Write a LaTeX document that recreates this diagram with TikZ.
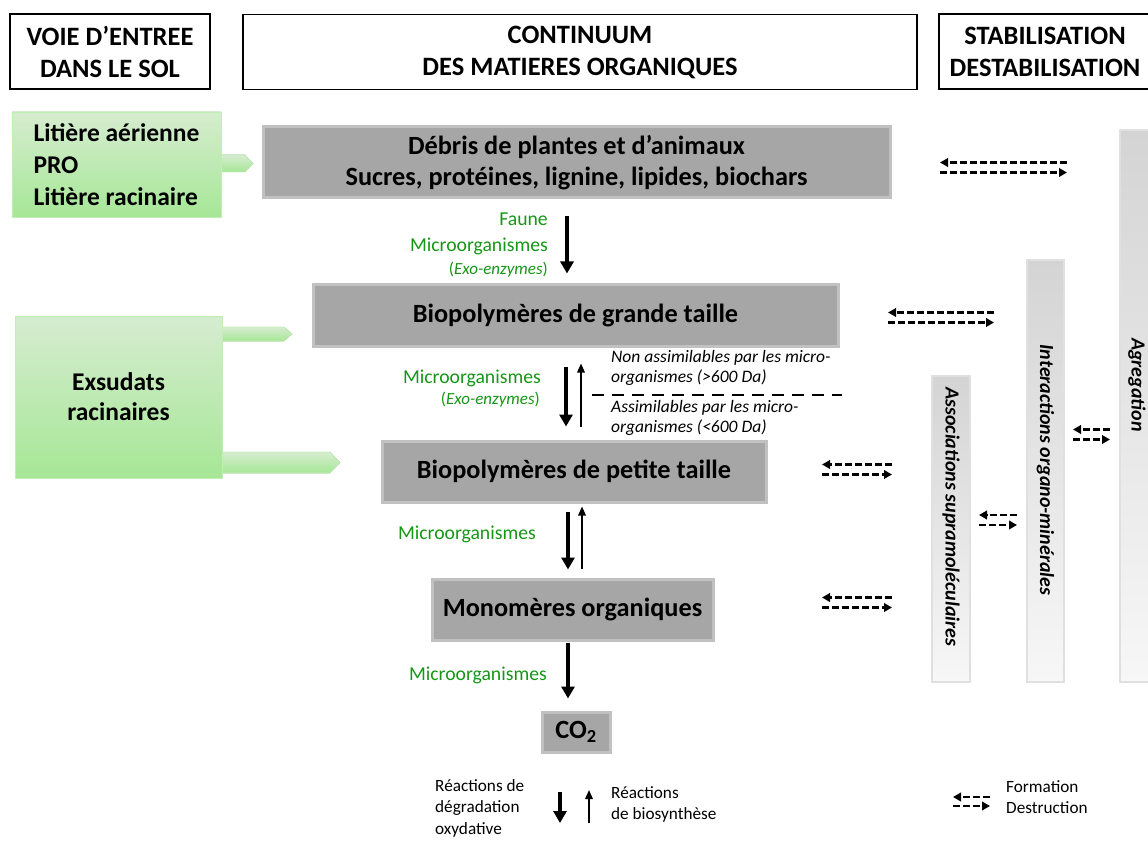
\documentclass[tikz,border=0pt]{standalone}
\usepackage{fontspec}
\setmainfont{Carlito}
\usetikzlibrary{arrows.meta}
\definecolor{boxgray}{RGB}{166,166,166}
\definecolor{txtgreen}{RGB}{22,150,22}
\definecolor{grtop}{RGB}{214,236,208}
\definecolor{grbot}{RGB}{166,231,150}
\definecolor{bartop}{RGB}{212,212,212}
\definecolor{barbot}{RGB}{247,247,247}
\newcommand\dblarr[2]{%
  \draw[dasharr] ([yshift=5pt]#2) -- ([yshift=5pt]#1);
  \draw[dasharr] ([yshift=-5pt]#1) -- ([yshift=-5pt]#2);}
\begin{document}
\begin{tikzpicture}[x=1pt,y=-1pt,
  hdr/.style={draw, line width=1.8pt, inner sep=0pt, align=center,
    font=\fontsize{26.5}{32}\selectfont\bfseries},
  gbox/.style={fill=boxgray, draw=boxgray!70, line width=3pt, inner sep=0pt, align=center,
    font=\fontsize{26.3}{31}\selectfont\bfseries},
  greenbox/.style={top color=grtop, bottom color=grbot, draw=grbot!70, line width=0.8pt,
    inner sep=0pt, font=\fontsize{25.5}{32}\selectfont\bfseries},
  tab/.style={top color=grtop, bottom color=grbot, draw=grbot!70, line width=0.6pt},
  bar/.style={top color=bartop, bottom color=barbot, draw=black!12, line width=1.5pt, inner sep=0pt},
  bartext/.style={rotate=-90, inner sep=0pt, font=\fontsize{20}{24}\selectfont\bfseries\itshape},
  glabel/.style={anchor=east, inner sep=0pt, text=txtgreen, font=\fontsize{19.7}{24}\selectfont},
  gsmall/.style={anchor=east, inner sep=0pt, text=txtgreen, font=\fontsize{17}{20}\selectfont},
  note/.style={anchor=west, inner sep=0pt, align=left, font=\fontsize{17.5}{20}\selectfont\itshape},
  legend/.style={anchor=north west, inner sep=0pt, align=left, font=\fontsize{17.2}{21.5}\selectfont},
  bigarr/.style={line width=3.6pt, -{Triangle[length=12pt,width=13pt]}},
  thinarr/.style={line width=1.7pt, -{Triangle[length=9pt,width=7.5pt]}},
  dasharr/.style={line width=2.6pt, dash pattern=on 7pt off 3pt, -{Triangle[length=8pt,width=8.5pt]}}
]
\useasboundingbox (0,0) rectangle (1148,842);

% headers
\node[hdr, minimum width=200pt, minimum height=75pt] (h1) at (110,51.5) {VOIE D’ENTREE\\DANS LE SOL};
\node[hdr, minimum width=674pt, minimum height=75pt] (h2) at (580,52) {CONTINUUM\\DES MATIERES ORGANIQUES};
\node[hdr, minimum width=212pt, minimum height=75pt] (h3) at (1045,51.5) {STABILISATION\\DESTABILISATION};

% green input boxes
\fill[tab] (221,155) -- (245,155) -- (253,163.5) -- (245,172) -- (221,172) -- cycle;
\fill[tab] (222,327) -- (284,327) -- (292,334) -- (284,341) -- (222,341) -- cycle;
\fill[tab] (222,452) -- (330,452) -- (340,462.5) -- (330,473) -- (222,473) -- cycle;
\node[greenbox, minimum width=209pt, minimum height=105pt, align=left] (inA) at (116.5,164.5)
  {Litière aérienne\\PRO\\Litière racinaire};
\node[greenbox, minimum width=207pt, minimum height=162pt, align=center,
  font=\fontsize{25.5}{30}\selectfont\bfseries] (inB) at (118.5,397) {Exsudats\\racinaires};

% gray continuum boxes
\node[gbox, minimum width=627pt, minimum height=71pt] (debris) at (576.5,162.5)
  {Débris de plantes et d’animaux\\Sucres, protéines, lignine, lipides, biochars};
\node[gbox, minimum width=525pt, minimum height=61pt] (grande) at (575.5,315.5) {Biopolymères de grande taille};
\node[gbox, minimum width=384pt, minimum height=61pt] (petite) at (574,471.5) {Biopolymères de petite taille};
\node[gbox, minimum width=281pt, minimum height=61pt] (mono) at (572.5,609.5) {Monomères organiques};
\node[gbox, minimum width=68pt, minimum height=40pt] (co2) at (576,732) {CO\textsubscript{2}};

% vertical bars
\node[bar, minimum width=38pt, minimum height=306pt] (assoc) at (951,529) {};
\node[bar, minimum width=37pt, minimum height=422pt] (inter) at (1045.5,471) {};
\node[bar, minimum width=40pt, minimum height=552pt] (agr) at (1140,406) {};
\node[bartext] (assoct) at (951,517) {Associations supramoléculaires};
\node[bartext] (intert) at (1045.5,470) {Interactions organo-minérales};
\node[bartext] (agrt) at (1137,385) {Agregation};

% vertical arrows
\coordinate (xa) at (567,0);
\coordinate (xb) at (566,0);
\coordinate (xc) at (581,0);
\coordinate (xd) at (568,0);
\coordinate (xe) at (582,0);
\draw[bigarr, shorten <=17pt, shorten >=10pt] (debris.south -| xa) -- (grande.north -| xa);
\draw[bigarr, shorten <=19pt, shorten >=13pt] (grande.south -| xb) -- (petite.north -| xb);
\draw[thinarr, shorten <=13pt, shorten >=16pt] (petite.north -| xc) -- (grande.south -| xc);
\draw[bigarr, shorten <=8pt, shorten >=8pt] (petite.south -| xd) -- (mono.north -| xd);
\draw[thinarr, shorten <=9pt, shorten >=3pt] (mono.north -| xe) -- (petite.south -| xe);
\draw[bigarr, shorten <=1pt, shorten >=12pt] (mono.south -| xd) -- (co2.north -| xd);

% green labels
\node[glabel] (l1) at (548,219) {Faune};
\node[glabel] (l2) at (548,246) {Microorganismes};
\node[gsmall] (l3) at (548,270) {(\textit{Exo-enzymes})};
\node[glabel] (l4) at (541,378) {Microorganismes};
\node[gsmall] (l5) at (540,400) {(\textit{Exo-enzymes})};
\node[glabel] (l6) at (536,534) {Microorganismes};
\node[glabel] (l7) at (547,675) {Microorganismes};

% size threshold
\coordinate (t1) at (592,395);
\coordinate (t2) at (842,395);
\draw[line width=2pt, dash pattern=on 12pt off 8pt] (t1) -- (t2);
\node[note] (n1) at (611,368) {Non assimilables par les micro-\\organismes (>600 Da)};
\node[note] (n2) at (611,418) {Assimilables par les micro-\\organismes (<600 Da)};

% formation / destruction arrows
\coordinate (d1l) at (940,167.5);  \coordinate (d1r) at (1067,167.5);
\coordinate (d2l) at (888,317.5);  \coordinate (d2r) at (994,317.5);
\coordinate (d3l) at (822,469.5);  \coordinate (d3r) at (892,469.5);
\coordinate (d4l) at (822,602.5);  \coordinate (d4r) at (892,602.5);
\coordinate (d5l) at (979,520);    \coordinate (d5r) at (1017,520);
\coordinate (d6l) at (1073,434.5); \coordinate (d6r) at (1110,434.5);
\dblarr{d1l}{d1r}
\dblarr{d2l}{d2r}
\dblarr{d3l}{d3r}
\dblarr{d4l}{d4r}
\dblarr{d5l}{d5r}
\dblarr{d6l}{d6r}

% legend
\node[legend] (lg1) at (435,779) {Réactions de\\dégradation\\oxydative};
\coordinate (la1) at (560,792); \coordinate (la2) at (560,823);
\draw[bigarr, line width=3.2pt] (la1) -- (la2);
\coordinate (lb1) at (589,823); \coordinate (lb2) at (589,790);
\draw[thinarr] (lb1) -- (lb2);
\node[legend] (lg2) at (611,786) {Réactions\\de biosynthèse};
\coordinate (lc1) at (953,801.5); \coordinate (lc2) at (990,801.5);
\draw[dasharr] ([yshift=4.5pt]lc2) -- ([yshift=4.5pt]lc1);
\draw[dasharr] ([yshift=-4.5pt]lc1) -- ([yshift=-4.5pt]lc2);
\node[legend] (lg3) at (1006,780) {Formation\\Destruction};
\end{tikzpicture}
\end{document}
